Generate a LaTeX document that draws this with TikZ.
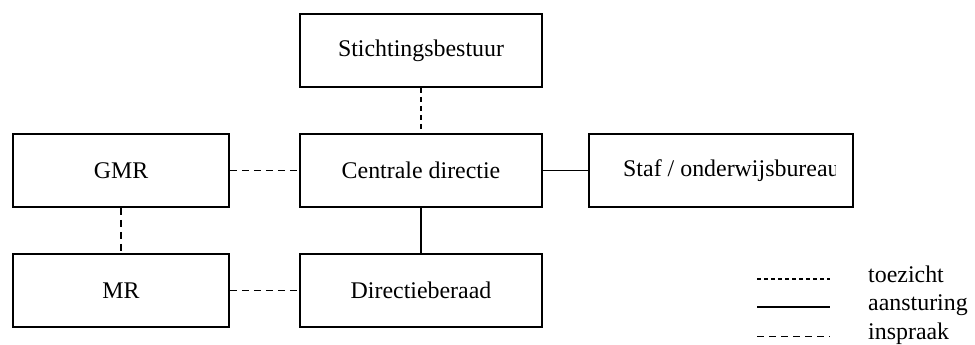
\documentclass[tikz,border=0pt]{standalone}
\usepackage{fontspec}
\setmainfont{Liberation Serif}
\tikzset{
    box/.style={shape=rectangle,draw=black,line width=1.8pt,minimum height=73pt,inner sep=0pt},
    toezicht/.style={line width=1.8pt,dash pattern=on 5pt off 4pt},
    aansturing/.style={line width=1.8pt},
    inspraak/.style={line width=1.8pt,dash pattern=on 7pt off 5pt}
}
\begin{document}
\begin{tikzpicture}[x=1pt,y=-1pt,font=\fontsize{23.9}{28}\selectfont]
    \useasboundingbox (0,0) rectangle (975,345);
    % insert nodes
    \node[box,minimum width=242pt] (bestuur) at (421,50.5) {Stichtingsbestuur};
    \node[box,minimum width=242pt] (centraal) at (421,170.5) {Centrale directie};
    \node[box,minimum width=242pt] (beraad) at (421,290.5) {Directieberaad};
    \node[box,minimum width=216pt] (gmr) at (121,170.5) {GMR};
    \node[box,minimum width=216pt] (mr) at (121,290.5) {MR};
    \node[box,minimum width=264pt] (staf) at (721,170.5) {};
    \begin{scope}
        \clip (589,134) rectangle (835,207);
        \node[anchor=west,inner sep=0pt] (staftekst) at (623,170.5) {Staf / onderwijsbureau};
    \end{scope}

    % insert links
    \draw[toezicht] (bestuur) -- (centraal);
    \draw[aansturing] (centraal) -- (staf);
    \draw[aansturing] (centraal) -- (beraad);
    \draw[inspraak] (gmr) -- (centraal);
    \draw[inspraak] (gmr) -- (mr);
    \draw[inspraak] (mr) -- (beraad);

    % legend
    \coordinate (t1) at (757,279);
    \coordinate (t2) at (830,279);
    \coordinate (a1) at (757,307);
    \coordinate (a2) at (830,307);
    \coordinate (i1) at (757,336.5);
    \coordinate (i2) at (830,336.5);
    \draw[toezicht,dash pattern=on 4pt off 3pt] (t1) -- (t2);
    \draw[aansturing] (a1) -- (a2);
    \draw[inspraak] (i1) -- (i2);
    \node[anchor=base west,inner sep=0pt] (ltoezicht) at (868,282) {toezicht};
    \node[anchor=base west,inner sep=0pt] (laansturing) at (868,310) {aansturing};
    \node[anchor=base west,inner sep=0pt] (linspraak) at (868,339) {inspraak};
\end{tikzpicture}
\end{document}
